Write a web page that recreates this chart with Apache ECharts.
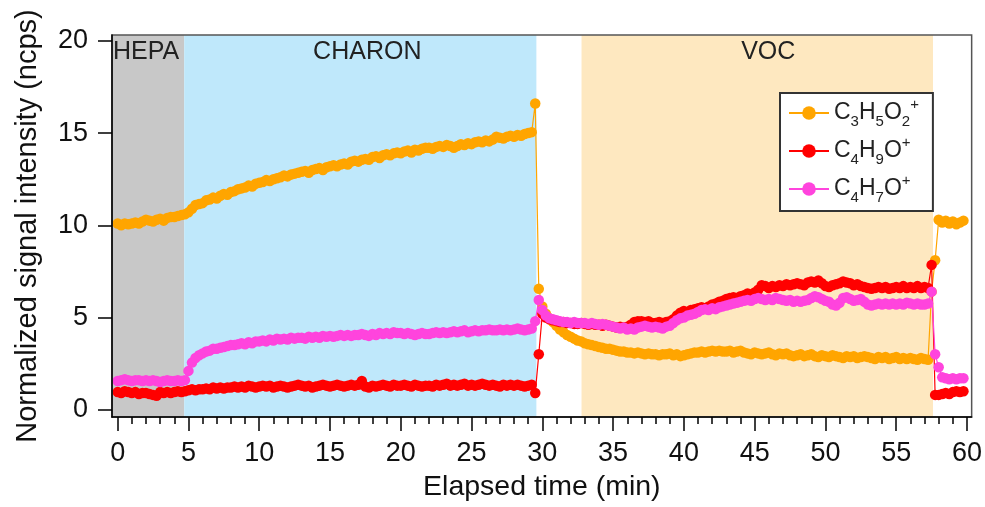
<!DOCTYPE html>
<html>
<head>
<meta charset="utf-8">
<script src="https://cdn.jsdelivr.net/npm/echarts@6/dist/echarts.min.js"></script>
<style>html,body{margin:0;padding:0;background:#fff;}#c{width:985px;height:507px;}</style>
</head>
<body>
<div id="c"></div>
<script>
// ---- data (sampling every 0.25 min, 0 .. 59.75 min) ----
const TIME_STEP = 0.25;
const N_POINTS = 240;
const seriesNames = ['C3H5O2+', 'C4H9O+', 'C4H7O+'];
// C3H5O2+ (orange)
const c3h5o2 = [
  10.1,10.0,10.1,10.05, 10.1,10.15,10.1,10.2, 10.3,10.25,10.2,10.3, 10.35,10.25,10.4,10.45,
  10.45,10.5,10.55,10.6, 10.7,10.9,11.1,11.15, 11.2,11.35,11.4,11.5, 11.45,11.6,11.7,11.65,
  11.8,11.85,11.95,12.0, 12.05,12.15,12.1,12.25, 12.3,12.35,12.45,12.4, 12.5,12.55,12.6,12.7,
  12.65,12.75,12.8,12.85, 12.9,12.95,12.85,13.0, 13.05,13.1,13.0,13.15, 13.2,13.25,13.2,13.3,
  13.35,13.3,13.45,13.5, 13.45,13.55,13.6,13.55, 13.7,13.75,13.65,13.8, 13.85,13.8,13.9,13.95,
  13.9,14.0,14.05,13.95, 14.1,14.05,14.15,14.2, 14.2,14.15,14.25,14.3, 14.25,14.35,14.3,14.2,
  14.3,14.4,14.35,14.45, 14.4,14.5,14.55,14.5, 14.6,14.55,14.65,14.8, 14.75,14.7,14.8,14.85,
  14.8,14.9,14.85,14.95, 15.0,15.05,16.6,6.55, 5.6,5.2,4.95,4.75, 4.55,4.35,4.2,4.05,
  3.95,3.85,3.75,3.7, 3.6,3.55,3.5,3.45, 3.4,3.35,3.3,3.3, 3.25,3.2,3.15,3.15,
  3.1,3.1,3.05,3.1, 3.05,3.0,3.05,3.0, 3.0,2.95,3.0,3.0, 3.05,2.95,3.0,2.9,
  2.95,3.0,3.05,3.1, 3.1,3.15,3.1,3.15, 3.2,3.15,3.2,3.15, 3.15,3.2,3.1,3.15,
  3.2,3.1,3.05,3.0, 3.1,3.05,3.0,3.05, 3.1,3.0,2.95,3.05, 3.0,3.05,2.95,2.9,
  2.95,3.0,2.9,2.95, 3.0,2.9,2.85,2.95, 2.9,2.85,2.95,2.9, 2.85,2.8,2.9,2.85,
  2.9,2.8,2.85,2.9, 2.85,2.8,2.75,2.85, 2.8,2.85,2.75,2.8, 2.85,2.75,2.8,2.75,
  2.8,2.75,2.7,2.8, 2.75,2.7,6.4,8.1, 10.3,10.15,10.25,10.1, 10.2,10.05,10.15,10.25
];
// C4H9O+ (red)
const c4h9o = [
  0.95,0.9,1.0,0.95, 0.9,0.95,0.85,0.9, 0.9,0.85,0.8,0.75, 0.95,0.9,0.95,0.9,
  0.95,1.0,0.95,1.0, 1.05,1.1,1.05,1.1, 1.1,1.15,1.1,1.2, 1.15,1.2,1.15,1.2,
  1.2,1.25,1.2,1.25, 1.2,1.3,1.25,1.2, 1.25,1.3,1.25,1.3, 1.2,1.25,1.3,1.25,
  1.2,1.25,1.3,1.35, 1.3,1.25,1.3,1.2, 1.25,1.3,1.35,1.3, 1.25,1.3,1.35,1.3,
  1.25,1.3,1.35,1.3, 1.35,1.55,1.25,1.2, 1.3,1.25,1.3,1.35, 1.3,1.25,1.35,1.3,
  1.3,1.35,1.3,1.25, 1.35,1.3,1.25,1.3, 1.3,1.25,1.35,1.3, 1.35,1.4,1.3,1.35,
  1.3,1.35,1.4,1.3, 1.35,1.3,1.35,1.4, 1.35,1.3,1.35,1.3, 1.25,1.35,1.3,1.35,
  1.3,1.35,1.3,1.25, 1.3,1.35,0.9,3.0, 5.2,5.0,4.9,4.85, 4.8,4.75,4.75,4.7,
  4.7,4.65,4.65,4.7, 4.65,4.6,4.65,4.6, 4.6,4.55,4.6,4.55, 4.5,4.45,4.5,4.45,
  4.5,4.6,4.75,4.8, 4.8,4.75,4.8,4.7, 4.7,4.75,4.7,4.75, 4.8,4.9,5.1,5.25,
  5.35,5.3,5.4,5.45, 5.5,5.55,5.5,5.6, 5.7,5.75,5.85,5.9, 6.0,6.05,6.1,6.05,
  6.15,6.2,6.3,6.25, 6.35,6.5,6.75,6.7, 6.6,6.7,6.65,6.75, 6.7,6.8,6.75,6.8,
  6.85,6.8,6.75,6.9, 6.95,6.9,7.0,6.85, 6.7,6.65,6.75,6.8, 6.85,6.95,6.9,6.85,
  6.75,6.8,6.7,6.65, 6.6,6.55,6.6,6.65, 6.6,6.65,6.55,6.6, 6.65,6.6,6.7,6.6,
  6.65,6.6,6.7,6.6, 6.65,6.6,7.85,0.8, 0.8,0.85,0.9,0.85, 0.95,1.0,0.95,1.0
];
// C4H7O+ (pink)
const c4h7o = [
  1.55,1.6,1.65,1.6, 1.55,1.6,1.6,1.55, 1.6,1.55,1.6,1.55, 1.5,1.55,1.6,1.55,
  1.55,1.6,1.55,1.6, 2.1,2.55,2.8,2.95, 3.05,3.15,3.2,3.3, 3.3,3.35,3.4,3.45,
  3.5,3.5,3.55,3.6, 3.55,3.65,3.6,3.7, 3.7,3.75,3.7,3.8, 3.75,3.85,3.8,3.85,
  3.8,3.9,3.85,3.9, 3.9,3.85,3.95,3.9, 3.95,3.9,4.0,3.95, 4.0,3.95,4.0,4.05,
  4.0,4.05,4.0,4.05, 4.05,4.1,4.05,4.0, 4.1,4.05,4.15,4.1, 4.15,4.1,4.2,4.15,
  4.15,4.1,4.15,4.1, 4.05,4.1,4.15,4.1, 4.1,4.15,4.2,4.15, 4.2,4.15,4.2,4.25,
  4.2,4.25,4.3,4.2, 4.25,4.3,4.25,4.3, 4.3,4.35,4.3,4.3, 4.35,4.3,4.35,4.3,
  4.35,4.4,4.35,4.3, 4.35,4.4,4.8,5.95, 5.4,5.1,4.95,4.9, 4.85,4.8,4.75,4.75,
  4.7,4.75,4.7,4.7, 4.7,4.65,4.7,4.65, 4.6,4.65,4.6,4.55, 4.5,4.45,4.4,4.45,
  4.35,4.4,4.35,4.45, 4.5,4.55,4.5,4.45, 4.5,4.45,4.4,4.5, 4.55,4.7,4.85,4.95,
  5.0,5.1,5.15,5.2, 5.3,5.4,5.45,5.4, 5.5,5.45,5.55,5.6, 5.65,5.7,5.75,5.8,
  5.85,5.9,5.95,5.9, 6.0,6.05,6.0,5.95, 6.0,5.95,6.05,6.0, 5.95,5.9,5.95,5.85,
  5.9,5.85,5.9,5.95, 6.05,6.15,6.1,6.0, 5.9,5.85,5.7,5.65, 5.8,6.05,6.1,6.0,
  5.9,5.95,6.0,5.85, 5.7,5.65,5.7,5.75, 5.7,5.75,5.7,5.75, 5.7,5.75,5.7,5.8,
  5.75,5.7,5.75,5.7, 5.7,5.75,6.4,3.0, 2.3,1.75,1.7,1.65, 1.7,1.65,1.7,1.7
];
// background periods
const bandNames = ['HEPA', 'CHARON', 'VOC'];
const bandStarts = [-0.4, 4.7, 32.77];
const bandEnds = [4.7, 29.58, 57.6];
// ticks
const xMajorTicks = [0, 5, 10, 15, 20, 25, 30, 35, 40, 45, 50, 55, 60];
const xMinorTicks = [0,1,2,3,4,5,6,7,8,9,10,11,12,13,14,15,16,17,18,19,20,21,22,23,24,25,26,27,28,29,30,
  31,32,33,34,35,36,37,38,39,40,41,42,43,44,45,46,47,48,49,50,51,52,53,54,55,56,57,58,59,60];
const yTicks = [0, 5, 10, 15, 20];

// ---- chart ----
const FONT = 'Liberation Sans, Arial, sans-serif';
const times = [];
for (let i = 0; i < N_POINTS; i++) times.push(i * TIME_STEP);
function pairs(vals) { return vals.map((v, i) => [times[i], v]); }

const colors = ['#ffa500', '#ff0000', '#ff44dd'];
const bandColors = ['#c8c8c8', '#bfe8fb', '#fee8c0'];
const bandLabelOffsets = [[-4, 0], [7, 0], [11, 0]];
const bandLabelPos = ['insideTopLeft', 'insideTop', 'insideTop'];

const legendRich = {
  n: { fontSize: 23, fontFamily: FONT, color: '#222', lineHeight: 30, verticalAlign: 'middle' },
  b: { fontSize: 15, fontFamily: FONT, color: '#222', lineHeight: 32, verticalAlign: 'bottom' },
  p: { fontSize: 15, fontFamily: FONT, color: '#222', lineHeight: 30, verticalAlign: 'top' }
};
const legendFmt = {
  'C3H5O2+': '{n|C}{b|3}{n|H}{b|5}{n|O}{b|2}{p|+}',
  'C4H9O+': '{n|C}{b|4}{n|H}{b|9}{n|O}{p|+}',
  'C4H7O+': '{n|C}{b|4}{n|H}{b|7}{n|O}{p|+}'
};

const chart = echarts.init(document.getElementById('c'), null, { renderer: 'canvas' });
const option = {
  animation: false,
  backgroundColor: '#fff',
  grid: { left: 112, top: 35, width: 862, height: 385, show: true, borderColor: '#555', borderWidth: 1.5, z: 6 },
  legend: {
    data: seriesNames,
    orient: 'vertical',
    left: 780, top: 93,
    padding: [4, 14, 6, 8],
    itemGap: 6,
    itemWidth: 40, itemHeight: 17,
    backgroundColor: '#fff',
    borderColor: '#333', borderWidth: 2,
    formatter: (name) => legendFmt[name],
    textStyle: { rich: legendRich, color: '#222' }
  },
  xAxis: [{
    type: 'value', min: -0.4, max: 60.33, position: 'bottom', z: 6,
    axisLine: { show: true, onZero: false, lineStyle: { color: '#000', width: 1.5 } },
    axisTick: { show: true, customValues: xMajorTicks, length: 14, lineStyle: { color: '#000', width: 1.5 } },
    axisLabel: { customValues: xMajorTicks, fontSize: 27, fontFamily: FONT, color: '#111', margin: 23 },
    splitLine: { show: false },
    name: 'Elapsed time (min)', nameLocation: 'middle', nameGap: 56,
    nameTextStyle: { fontSize: 28.5, fontFamily: FONT, color: '#111' }
  }, {
    type: 'value', min: -0.4, max: 60.33, position: 'bottom', z: 6,
    axisLine: { show: false, onZero: false },
    axisTick: { show: true, customValues: xMinorTicks, length: 7, lineStyle: { color: '#000', width: 1.5 } },
    axisLabel: { show: false },
    splitLine: { show: false }
  }],
  yAxis: {
    type: 'value', min: -0.4, max: 20.32, position: 'left', z: 6,
    axisLine: { show: true, onZero: false, lineStyle: { color: '#000', width: 1.5 } },
    axisTick: { show: true, customValues: yTicks, length: 14, lineStyle: { color: '#000', width: 1.5 } },
    axisLabel: { customValues: yTicks, fontSize: 27, fontFamily: FONT, color: '#111', margin: 24 },
    splitLine: { show: false },
    name: 'Normalized signal intensity (ncps)', nameLocation: 'middle', nameGap: 70,
    nameTextStyle: { fontSize: 29, fontFamily: FONT, color: '#111' }
  },
  series: [
    {
      name: '__bands', type: 'line', data: [], z: 1, silent: true,
      markArea: {
        silent: true,
        data: bandNames.map((nm, i) => [
          { xAxis: bandStarts[i], name: nm, itemStyle: { color: bandColors[i] },
            label: { position: bandLabelPos[i], offset: bandLabelOffsets[i] } },
          { xAxis: bandEnds[i] }
        ]),
        label: { show: true, fontSize: 25, fontFamily: FONT, color: '#222', distance: 5 }
      }
    }
  ].concat([c3h5o2, c4h9o, c4h7o].map((vals, k) => ({
    name: seriesNames[k], type: 'line', data: pairs(vals), xAxisIndex: 0,
    symbol: 'circle', symbolSize: 10.5, showAllSymbol: true,
    itemStyle: { color: colors[k] },
    lineStyle: { color: colors[k], width: 1.2 },
    z: 3 + k
  })))
};
chart.setOption(option);
</script>
</body>
</html>
